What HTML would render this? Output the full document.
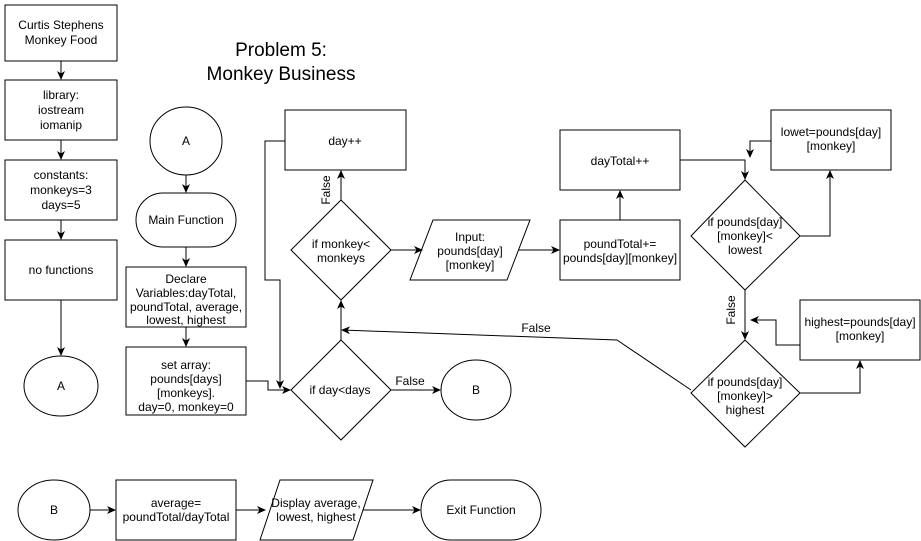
<!DOCTYPE html>
<html><head><meta charset="utf-8"><style>
body{margin:0;background:#fff;}
svg{display:block;font-family:"Liberation Sans",Arial,sans-serif;font-size:12px;}
</style></head><body>
<svg width="921" height="541" viewBox="0 0 921 541" xmlns="http://www.w3.org/2000/svg">
<defs><marker id="a" markerWidth="10" markerHeight="10" refX="8" refY="4" orient="auto" markerUnits="userSpaceOnUse"><path d="M0,0 L9,4 L0,8 L2.5,4 z" fill="#000"/></marker></defs>
<g fill="#fff" stroke="#000" stroke-width="1">
<rect x="5" y="5" width="112" height="56"/>
<rect x="5" y="80" width="112" height="60"/>
<rect x="5" y="160" width="112" height="60"/>
<rect x="5" y="240" width="112" height="60"/>
<ellipse cx="61" cy="386" rx="37" ry="30"/>
<ellipse cx="186" cy="141" rx="36" ry="34"/>
<rect x="136" y="193" width="100" height="54" rx="27"/>
<rect x="126" y="267" width="120" height="60"/>
<rect x="126" y="347" width="120" height="68"/>
<polygon points="341,340 391,390 341,440 291,390"/>
<polygon points="341,200 391,250 341,300 291,250"/>
<rect x="285" y="110" width="121" height="60"/>
<polygon points="433,220 530,220 507,280 410,280"/>
<rect x="560" y="220" width="120" height="60"/>
<rect x="560" y="130" width="120" height="60"/>
<polygon points="745,180 800,236 745,290 691,236"/>
<rect x="771" y="110" width="120" height="60"/>
<rect x="800" y="300" width="120" height="60"/>
<polygon points="745,340 800,393 745,447 691,393"/>
<ellipse cx="476" cy="390" rx="35" ry="30"/>
<ellipse cx="54" cy="510" rx="36" ry="30"/>
<rect x="116" y="480" width="120" height="60"/>
<polygon points="280,480 373,480 353,540 260,540"/>
<rect x="421" y="480" width="120" height="60" rx="30"/>
</g>
<g fill="none" stroke="#000" stroke-width="1" marker-end="url(#a)">
<path d="M61,61 V79"/><path d="M61,140 V159"/><path d="M61,220 V239"/><path d="M61,300 V355"/>
<path d="M186,175 V192"/><path d="M186,247 V266"/><path d="M186,327 V346"/>
<path d="M246,381 H268 V390 H290"/>
<path d="M285,141 H265 V280 H280 V388"/>
<path d="M341,340 V301"/><path d="M341,200 V171"/>
<path d="M391,250 H422"/><path d="M519,250 H559"/>
<path d="M620,220 V191"/>
<path d="M680,160 H745 V179"/>
<path d="M771,141 H750 V157"/>
<path d="M800,236 H830 V171"/>
<path d="M745,290 V339"/>
<path d="M800,345 H776 V320 H751"/>
<path d="M800,393 H860 V361"/>
<path d="M691,390 L617,340 L342,330"/>
<path d="M391,390 H440"/>
<path d="M90,510 H115"/><path d="M236,510 H265"/><path d="M363,510 H420"/>
</g>
<g text-anchor="middle" fill="#000">
<text x="61" y="29">Curtis Stephens</text><text x="61" y="44">Monkey Food</text>
<text x="61" y="99">library:</text><text x="61" y="114">iostream</text><text x="61" y="129">iomanip</text>
<text x="61" y="179">constants:</text><text x="61" y="194">monkeys=3</text><text x="61" y="209">days=5</text>
<text x="61" y="274">no functions</text>
<text x="61" y="390">A</text>
<text x="281" y="56" font-size="19">Problem 5:</text><text x="281" y="80" font-size="19">Monkey Business</text>
<text x="186" y="145">A</text>
<text x="186" y="224">Main Function</text>
<text x="186" y="283">Declare</text><text x="186" y="297">Variables:dayTotal,</text><text x="186" y="311">poundTotal, average,</text><text x="186" y="324">lowest, highest</text>
<text x="186" y="369">set array:</text><text x="186" y="383">pounds[days]</text><text x="186" y="397">[monkeys].</text><text x="186" y="411">day=0, monkey=0</text>
<text x="340" y="394">if day&lt;days</text>
<text x="341" y="248">if monkey&lt;</text><text x="341" y="262">monkeys</text>
<text x="345" y="145">day++</text>
<text x="470" y="241">Input:</text><text x="470" y="255">pounds[day]</text><text x="470" y="269">[monkey]</text>
<text x="620" y="248">poundTotal+=</text><text x="620" y="262">pounds[day][monkey]</text>
<text x="620" y="165">dayTotal++</text>
<text x="745" y="226">if pounds[day]</text><text x="745" y="240">[monkey]&lt;</text><text x="745" y="254">lowest</text>
<text x="831" y="136">lowet=pounds[day]</text><text x="831" y="150">[monkey]</text>
<text x="860" y="326">highest=pounds[day]</text><text x="860" y="340">[monkey]</text>
<text x="745" y="386">if pounds[day]</text><text x="745" y="400">[monkey]&gt;</text><text x="745" y="414">highest</text>
<text x="536" y="332">False</text>
<text x="410" y="385">False</text>
<text x="476" y="394">B</text>
<text x="54" y="514">B</text>
<text x="176" y="507">average=</text><text x="176" y="521">poundTotal/dayTotal</text>
<text x="316" y="507">Display average,</text><text x="316" y="521">lowest, highest</text>
<text x="481" y="514">Exit Function</text>
<text transform="translate(330,190) rotate(-90)">False</text>
<text transform="translate(735,310) rotate(-90)">False</text>
</g>
</svg>
</body></html>
